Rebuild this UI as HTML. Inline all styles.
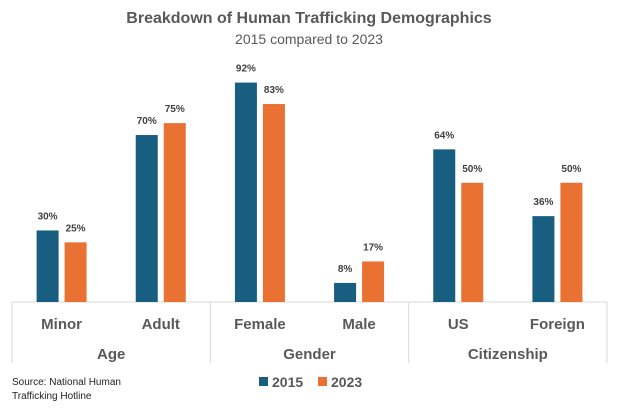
<!DOCTYPE html>
<html><head><meta charset="utf-8"><style>
body{margin:0;background:#fff;width:617px;height:408px;overflow:hidden;font-family:"Liberation Sans",sans-serif}
</style></head><body>
<svg id="chart" width="617" height="408" xmlns="http://www.w3.org/2000/svg">
<text x="309" y="23" text-anchor="middle" font-size="16" font-weight="bold" fill="#595959">Breakdown of Human Trafficking Demographics</text>
<text x="309" y="44" text-anchor="middle" font-size="14" fill="#595959">2015 compared to 2023</text>
<g id="axis"></g>
<g id="bars"></g>
<text x="12" y="385" font-size="10" fill="#222">Source: National Human</text>
<text x="12" y="399" font-size="10" fill="#222">Trafficking Hotline</text>
<g>
<rect x="259" y="377" width="9" height="9" fill="#175e80"/>
<text x="272" y="387" font-size="14" font-weight="bold" fill="#595959">2015</text>
<rect x="318" y="377" width="9" height="9" fill="#e97132"/>
<text x="331" y="387" font-size="14" font-weight="bold" fill="#595959">2023</text>
</g>
</svg>
<script>
const categories=["Minor","Adult","Female","Male","US","Foreign"];
const groups=["Age","Gender","Citizenship"];
const values2015=[30,70,92,8,64,36];
const values2023=[25,75,83,17,50,50];
const NS="http://www.w3.org/2000/svg";
const left=12,right=607,base=302,scale=2.385;
const cw=(right-left)/categories.length;
const x=i=>left+cw*i+cw/2;
const y=v=>base-v*scale;
function mk(tag,attrs,parent,txt){const e=document.createElementNS(NS,tag);for(const k in attrs)e.setAttribute(k,attrs[k]);if(txt!==undefined)e.textContent=txt;parent.appendChild(e);return e;}
const ax=document.getElementById('axis'),bg=document.getElementById('bars');
const al=mk('line',{x1:left,x2:right,y1:base,y2:base,stroke:'#d9d9d9','stroke-width':1},ax);


for(let g=0;g<=groups.length;g++){const gx=left+g*cw*2;
const l=mk('line',{x1:gx,x2:gx,y1:base,y2:363,stroke:'#d9d9d9','stroke-width':1},ax);

}
groups.forEach((gname,g)=>{const t=mk('text',{x:left+cw*(2*g+1),y:359,'text-anchor':'middle','font-size':15,'font-weight':'bold',fill:'#595959'},ax,gname);

});
categories.forEach((c,i)=>{
const t=mk('text',{x:x(i),y:329,'text-anchor':'middle','font-size':15,'font-weight':'bold',fill:'#595959'},ax,c);


[[values2015,'#175e80',-14,'2015'],[values2023,'#e97132',14,'2023']].forEach(([arr,col,off,yr])=>{
const cx=x(i)+off,v=arr[i];
const r=mk('rect',{x:cx-11,y:y(v),width:22,height:base-y(v),fill:col},bg);


const lb=mk('text',{x:cx,y:y(v)-11,'text-anchor':'middle','font-size':10,'font-weight':'bold',fill:'#404040'},bg,v+'%');


});});
</script>
</body></html>
